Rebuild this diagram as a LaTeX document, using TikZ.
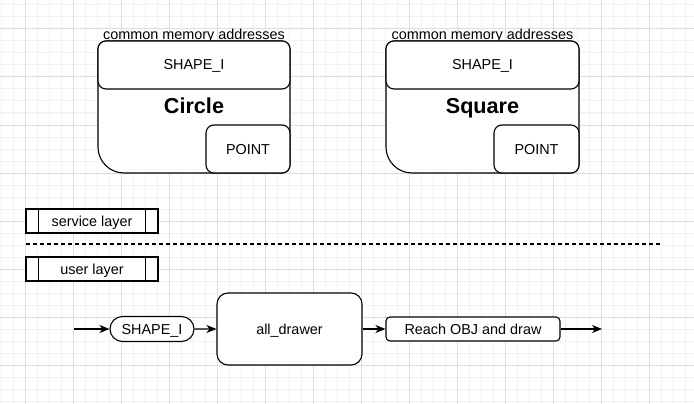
\documentclass[tikz,border=0pt]{standalone}
\usepackage{fontspec}
\setmainfont{Liberation Sans}
\usetikzlibrary{arrows.meta,shapes.misc}
\definecolor{gridminor}{HTML}{F3F3F3}
\definecolor{gridmajor}{HTML}{DEDEDE}
\begin{document}
\begin{tikzpicture}[x=1pt,y=-1pt,
  txt/.style={font=\fontsize{14.4}{17}\selectfont,text height=13pt,text depth=3pt},
  bigtxt/.style={font=\fontsize{21.6}{25}\selectfont\bfseries,text height=19.5pt,text depth=4.6pt},
  outline/.style={draw,line width=1.1pt},
  box/.style={outline,fill=white,rounded corners=8pt,inner sep=0pt,txt},
  stad/.style={outline,fill=white,rounded rectangle,inner sep=0pt,txt},
  layer/.style={outline,fill=white,inner sep=0pt,txt,minimum width=132pt,minimum height=24pt},
  arr/.style={line width=1.1pt,-{Stealth[length=10pt,width=8pt,inset=3pt]}},
]
\useasboundingbox (0,0) rectangle (694,404);
\fill[white] (0,0) rectangle (694,404);
% grid
\draw[gridminor,line width=1pt] \foreach \x in {1,13,...,693} {(\x,0) -- (\x,404)};
\draw[gridminor,line width=1pt] \foreach \y in {5,17,...,404} {(0,\y) -- (694,\y)};
\draw[gridmajor,line width=1pt] \foreach \x in {25,73,...,693} {(\x,0) -- (\x,404)};
\draw[gridmajor,line width=1pt] \foreach \y in {29,77,...,404} {(0,\y) -- (694,\y)};

% Circle container
\draw[outline,fill=white] (98,49) arc[start angle=180,end angle=90,radius=8pt] -- (282,41)
  arc[start angle=90,end angle=0,radius=8pt] -- (290,165)
  arc[start angle=0,end angle=-90,radius=8pt] -- (124,173)
  arc[start angle=270,end angle=180,radius=26pt] -- cycle;
\node[txt,inner sep=0pt] (cmem1) at (194,35) {common memory addresses};
\node[box,minimum width=192pt,minimum height=48pt] (shp1) at (194,65) {SHAPE\_I};
\node[bigtxt,inner sep=0pt] (circ) at (194,106) {Circle};
\node[box,minimum width=84pt,minimum height=48pt] (pt1) at (248,149) {POINT};

% Square container
\draw[outline,fill=white] (386,49) arc[start angle=180,end angle=90,radius=8pt] -- (571,41)
  arc[start angle=90,end angle=0,radius=8pt] -- (579,165)
  arc[start angle=0,end angle=-90,radius=8pt] -- (412,173)
  arc[start angle=270,end angle=180,radius=26pt] -- cycle;
\node[txt,inner sep=0pt] (cmem2) at (482.5,35) {common memory addresses};
\node[box,minimum width=193pt,minimum height=48pt] (shp2) at (482.5,65) {SHAPE\_I};
\node[bigtxt,inner sep=0pt] (sq) at (482.5,106) {Square};
\node[box,minimum width=85pt,minimum height=48pt] (pt2) at (536.5,149) {POINT};

% layers
\node[layer] (svc) at (92,221) {service layer};
\draw[outline] ([xshift=13pt]svc.north west) -- ([xshift=13pt]svc.south west);
\draw[outline] ([xshift=-13pt]svc.north east) -- ([xshift=-13pt]svc.south east);
\coordinate (dl) at (26,244);
\coordinate (dr) at (662,244);
\draw[line width=1.1pt,dash pattern=on 4pt off 3pt] (dl) -- (dr);
\node[layer] (usr) at (92,269) {user layer};
\draw[outline] ([xshift=13pt]usr.north west) -- ([xshift=13pt]usr.south west);
\draw[outline] ([xshift=-13pt]usr.north east) -- ([xshift=-13pt]usr.south east);

% flow
\coordinate (src) at (74,329);
\node[stad,minimum width=84pt,minimum height=25pt] (shp) at (152,329) {SHAPE\_I};
\node[box,rounded corners=11pt,minimum width=145pt,minimum height=72pt] (drw) at (289.5,329) {all\_drawer};
\node[box,rounded corners=4pt,minimum width=174pt,minimum height=24pt] (reach) at (473,329) {Reach OBJ and draw};
\coordinate (dst) at (602,329);
\draw[arr] (src) -- (shp);
\draw[arr] (shp) -- (drw);
\draw[arr] (drw) -- (reach);
\draw[arr] (reach) -- (dst);
\end{tikzpicture}
\end{document}
